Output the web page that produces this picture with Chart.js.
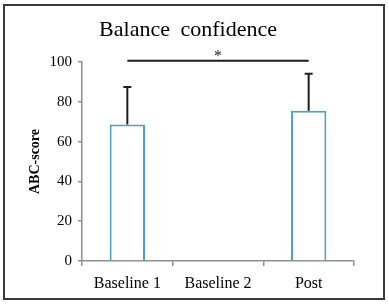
<!DOCTYPE html>
<html>
<head>
<meta charset="utf-8">
<script src="https://cdn.jsdelivr.net/npm/chart.js@4.4.1/dist/chart.umd.min.js"></script>
<style>
  html, body { margin: 0; padding: 0; background: #fff; }
  #wrap { position: relative; width: 389px; height: 304px; }
  #frame {
    position: absolute; left: 3px; top: 4px; width: 382px; height: 296px;
    border: 2px solid #3a3a3a; box-sizing: border-box; pointer-events: none;
  }
  #title {
    position: absolute; left: 0; top: 16px; width: 376px; text-align: center;
    font-family: "Liberation Serif", "Times New Roman", serif; font-size: 22px;
    color: #000; word-spacing: 5px;
  }
  canvas { position: absolute; left: 0; top: 0; }
</style>
</head>
<body>
<div id="wrap">
  <canvas id="chart" width="389" height="304"></canvas>
  <div id="title">Balance confidence</div>
  <div id="frame"></div>
</div>
<script>
  'use strict';

  // Data
  const categories = ['Baseline 1', 'Baseline 2', 'Post'];
  const means = [68.6, null, 75.5];
  const sds = [18.8, null, 18.6];
  const yTicks = [0, 20, 40, 60, 80, 100];
  const sigPair = [0, 2];   // Baseline 1 vs Post
  const sigLevel = 100.6;

  const serif = "'Liberation Serif', 'Times New Roman', serif";
  const axisGrey = '#8f8f8f';

  Chart.defaults.font.family = serif;
  Chart.defaults.color = '#000';

  // Upward-only error bars with a small cap
  const errorBars = {
    id: 'errorBars',
    afterDatasetsDraw(chart) {
      const ctx = chart.ctx;
      const x = chart.scales.x;
      const y = chart.scales.y;
      ctx.save();
      ctx.strokeStyle = '#1e1e1e';
      ctx.lineWidth = 2;
      means.forEach((m, i) => {
        if (m === null) return;
        const px = x.getPixelForValue(i);
        const y0 = y.getPixelForValue(m);
        const y1 = y.getPixelForValue(m + sds[i]);
        ctx.beginPath();
        ctx.moveTo(px, y0);
        ctx.lineTo(px, y1);
        ctx.moveTo(px - 4, y1);
        ctx.lineTo(px + 4, y1);
        ctx.stroke();
      });
      ctx.restore();
    }
  };

  // Significance bracket with asterisk
  const sigLine = {
    id: 'sigLine',
    afterDraw(chart) {
      const ctx = chart.ctx;
      const x = chart.scales.x;
      const y = chart.scales.y;
      const xa = x.getPixelForValue(sigPair[0]);
      const xb = x.getPixelForValue(sigPair[1]);
      const py = y.getPixelForValue(sigLevel);
      ctx.save();
      ctx.strokeStyle = '#1e1e1e';
      ctx.lineWidth = 2;
      ctx.beginPath();
      ctx.moveTo(xa, py);
      ctx.lineTo(xb, py);
      ctx.stroke();
      ctx.fillStyle = '#1e1e1e';
      ctx.font = '16px ' + serif;
      ctx.textAlign = 'center';
      ctx.textBaseline = 'middle';
      ctx.fillText('*', (xa + xb) / 2, py - 4);
      ctx.restore();
    }
  };

  new Chart(document.getElementById('chart'), {
    type: 'bar',
    data: {
      labels: categories,
      datasets: [{
        data: means,
        backgroundColor: '#ffffff',
        borderColor: '#4da2bd',
        borderWidth: 2,
        categoryPercentage: 1.0,
        barPercentage: 0.39
      }]
    },
    options: {
      responsive: false,
      animation: false,
      layout: { padding: { top: 62, right: 35, bottom: 0, left: 0 } },
      plugins: {
        legend: { display: false },
        tooltip: { enabled: false },
        title: { display: false }
      },
      scales: {
        x: {
          afterFit: (s) => { s.height = 43; },
          grid: {
            offset: true,
            drawOnChartArea: false,
            drawTicks: true,
            tickLength: 5,
            color: axisGrey,
            lineWidth: 1.5
          },
          border: { color: axisGrey, width: 1.5 },
          ticks: {
            color: '#000',
            padding: 8,
            font: { family: serif, size: 16 }
          }
        },
        y: {
          min: 0,
          max: 100,
          afterFit: (s) => { s.width = 82; },
          afterBuildTicks: (s) => { s.ticks = yTicks.map(v => ({ value: v })); },
          grid: {
            drawOnChartArea: false,
            drawTicks: true,
            tickLength: 4,
            color: axisGrey,
            lineWidth: 1.5
          },
          border: { color: axisGrey, width: 1.5 },
          ticks: {
            color: '#000',
            padding: 6,
            font: { family: serif, size: 15 }
          },
          title: {
            display: true,
            text: 'ABC-score',
            color: '#000',
            padding: { top: 27, bottom: 0 },
            font: { family: serif, size: 14, weight: 'bold' }
          }
        }
      }
    },
    plugins: [errorBars, sigLine]
  });
</script>
</body>
</html>
